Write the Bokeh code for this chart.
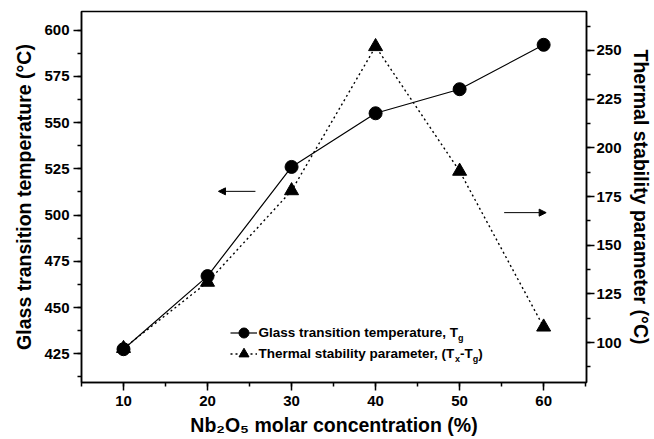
from bokeh.plotting import figure
from bokeh.models import (Range1d, LinearAxis, SingleIntervalTicker, Legend, LegendItem,
                          Label, Arrow, NormalHead)
from bokeh.embed import file_html
from bokeh.resources import INLINE

# ---------------- data ----------------
nb2o5 = [10, 20, 30, 40, 50, 60]
tg = [427.5, 467, 526, 555, 568, 592]
tsp = [97, 131, 178, 252, 188, 108]

x_label = "Nb\u2082O\u2085 molar concentration (%)"
y_label = "Glass transition temperature (\u00b0C)"
y2_label = "Thermal stability parameter (\u00b0C)"
legend_tg = [("Glass transition temperature, T", False), ("g", True)]
legend_tsp = [("Thermal stability parameter, (T", False), ("x", True), ("-T", False),
              ("g", True), (")", False)]

# ---------------- layout / style ----------------
FONT = "Liberation Sans"
x_rng = (5, 65.1)
y_rng = (409.5, 610)
y2_rng = (79.5, 270)

p = figure(width=654, height=439, x_range=Range1d(*x_rng), y_range=Range1d(*y_rng),
           output_backend="svg", toolbar_location=None,
           min_border_left=81, min_border_right=67, min_border_top=11, min_border_bottom=57)
p.extra_y_ranges = {"tsp": Range1d(*y2_rng)}
p.grid.visible = False
p.outline_line_color = "black"
p.outline_line_width = 1.5
p.background_fill_color = "white"
p.border_fill_color = "white"


def style_axis(ax, lab_standoff, axlab_standoff):
    ax.axis_line_color = "black"
    ax.axis_line_width = 1.5
    ax.major_tick_line_color = "black"
    ax.major_tick_line_width = 1.5
    ax.minor_tick_line_color = "black"
    ax.minor_tick_line_width = 1.5
    ax.major_tick_in = 0
    ax.major_tick_out = 8
    ax.minor_tick_in = 0
    ax.minor_tick_out = 4
    ax.major_label_text_font = FONT
    ax.major_label_text_font_style = "bold"
    ax.major_label_text_font_size = "15px"
    ax.major_label_text_color = "black"
    ax.major_label_standoff = lab_standoff
    ax.axis_label_text_font = FONT
    ax.axis_label_text_font_style = "bold"
    ax.axis_label_text_font_size = "19.5px"
    ax.axis_label_text_color = "black"
    ax.axis_label_standoff = axlab_standoff


p.xaxis.ticker = SingleIntervalTicker(interval=10, num_minor_ticks=2)
p.xaxis.axis_label = x_label
style_axis(p.xaxis[0], 5, 5)

p.yaxis.ticker = SingleIntervalTicker(interval=25, num_minor_ticks=2)
p.yaxis.axis_label = y_label
style_axis(p.yaxis[0], 4, 6)

ax2 = LinearAxis(y_range_name="tsp", axis_label=y2_label,
                 ticker=SingleIntervalTicker(interval=25, num_minor_ticks=2))
style_axis(ax2, 2, 5)
p.add_layout(ax2, "right")

# ---------------- series ----------------
r1 = p.line(nb2o5, tg, line_color="black", line_width=1.2)
r1m = p.scatter(nb2o5, tg, marker="circle", size=13, fill_color="black", line_color="black")
r2 = p.line(nb2o5, tsp, y_range_name="tsp", line_color="black", line_width=1.4, line_dash="2 3")
r2m = p.scatter(nb2o5, tsp, y_range_name="tsp", marker="triangle", size=14,
                fill_color="black", line_color="black")

# ---------------- legend samples (one legend per row) ----------------
leg_locs = [(149, 37), (149, 16)]
for rends, loc in zip(([r1, r1m], [r2, r2m]), leg_locs):
    p.add_layout(Legend(items=[LegendItem(label=" ", renderers=rends)],
                        location=loc, glyph_width=27, glyph_height=25, label_height=25,
                        spacing=0, padding=0, margin=0, border_line_alpha=0,
                        background_fill_alpha=0, label_width=0, label_standoff=0,
                        label_text_font_size="1px"))

# legend texts with subscripts
AW = {' ': 278, '(': 333, ')': 333, ',': 278, '-': 333, 'G': 778, 'T': 611, 'a': 556,
      'b': 611, 'e': 556, 'h': 611, 'i': 278, 'l': 278, 'm': 889, 'n': 611, 'o': 611,
      'p': 611, 'r': 389, 's': 556, 't': 333, 'u': 611, 'x': 556, 'y': 556, 'g': 611}
MAIN_PX = 13.5
SUB_PX = 9.0
leg_text_x = 26.07
leg_rows_y = [436.3, 425.0]


def add_rich(parts, x, y):
    off = 0.0
    for txt, sub in parts:
        size = SUB_PX if sub else MAIN_PX
        p.add_layout(Label(x=x, y=y, text=txt, x_offset=off, y_offset=-5 if sub else 0,
                           text_font=FONT, text_font_style="bold",
                           text_font_size=f"{size}px", text_color="black",
                           text_baseline="middle", text_align="left"))
        off += sum(AW.get(c, 556) for c in txt) * size / 1000.0


add_rich(legend_tg, leg_text_x, leg_rows_y[0])
add_rich(legend_tsp, leg_text_x, leg_rows_y[1])

# ---------------- arrows ----------------
arrow_left = dict(x_start=25.7, x_end=21.3, y_start=512.8, y_end=512.8)
arrow_right = dict(x_start=55.3, x_end=60.3, y_start=501.3, y_end=501.3)
for a in (arrow_left, arrow_right):
    p.add_layout(Arrow(end=NormalHead(size=7, line_color="black", fill_color="black", line_width=1),
                       line_color="black", line_width=1, **a))

open("out.html", "w").write(file_html(p, INLINE))
